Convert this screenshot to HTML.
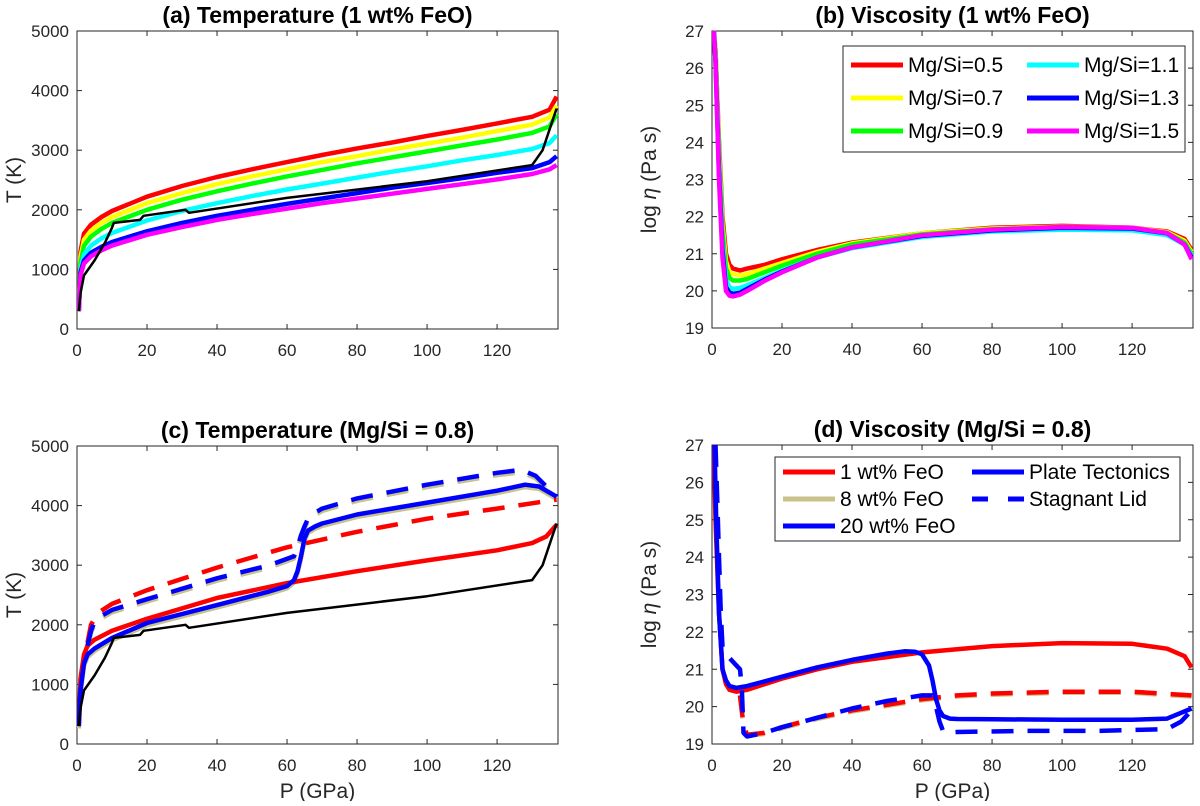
<!DOCTYPE html>
<html><head><meta charset="utf-8"><style>
body{margin:0;background:#fff}
svg text{font-family:"Liberation Sans",Arial,sans-serif}
</style></head><body>
<svg id="s" width="1200" height="801" viewBox="0 0 1200 801" xmlns="http://www.w3.org/2000/svg"></svg>
<script>
// ---- data ----
const xTicks=[0,20,40,60,80,100,120];
const tTicks=[0,1000,2000,3000,4000,5000];
const vTicks=[19,20,21,22,23,24,25,26,27];
const pA=[0.5,1,2,4,7,10,20,30,40,50,60,70,80,90,100,110,120,130,135,137];
const tRed=[300,1300,1600,1750,1880,1980,2220,2400,2550,2680,2800,2920,3030,3130,3240,3340,3450,3560,3680,3900];
const tYellow=[300,1200,1500,1650,1780,1880,2110,2280,2430,2560,2680,2800,2900,3010,3110,3210,3320,3430,3550,3750];
const tGreen=[300,1100,1400,1550,1680,1780,2000,2170,2310,2440,2560,2670,2780,2880,2980,3080,3180,3290,3400,3600];
const tCyan=[300,1000,1250,1400,1520,1610,1820,1980,2110,2230,2340,2440,2540,2640,2730,2830,2920,3020,3120,3250];
const tBlue=[300,950,1150,1280,1380,1460,1640,1780,1900,2000,2100,2190,2280,2370,2450,2530,2620,2700,2800,2900];
const tMag=[300,900,1100,1220,1320,1400,1580,1710,1830,1930,2020,2110,2190,2270,2350,2430,2510,2600,2680,2750];
const pBlack=[0.5,1,2,5,8,10,10.5,18,19,31,32,60,100,130,133,137];
const tBlack=[300,600,900,1150,1450,1700,1780,1830,1900,2000,1950,2200,2480,2750,3000,3700];
const pB=[0.5,1,2,3,4,5,6,8,10,15,20,30,40,60,80,100,120,130,135,137];
const vRed=[27,26.5,24,22,21,20.7,20.6,20.55,20.6,20.7,20.85,21.1,21.3,21.55,21.7,21.75,21.7,21.6,21.4,21.1];
const vYellow=[27,26.5,23.8,21.8,20.8,20.5,20.45,20.42,20.45,20.6,20.75,21.05,21.28,21.55,21.68,21.73,21.7,21.58,21.35,21.05];
const vGreen=[27,26.4,23.6,21.6,20.6,20.35,20.28,20.28,20.32,20.5,20.68,21.0,21.25,21.52,21.66,21.72,21.68,21.56,21.3,21.0];
const vCyan=[27,26.3,23.4,21.3,20.3,20.1,20.05,20.08,20.15,20.35,20.55,20.9,21.15,21.45,21.6,21.65,21.63,21.5,21.25,20.95];
const vBlue=[27,26.2,23.2,21.1,20.1,19.95,19.92,19.95,20.05,20.3,20.52,20.9,21.17,21.48,21.63,21.7,21.68,21.55,21.25,20.9];
const vMag=[27,26.2,23.0,20.9,20.0,19.87,19.85,19.9,20.0,20.27,20.5,20.9,21.17,21.5,21.65,21.72,21.7,21.56,21.25,20.85];
// panel c
const pC1=[0.5,1,2,3,5,10,20,40,60,80,100,120,130,134,137];
const tC1red=[300,1100,1500,1650,1750,1900,2100,2450,2700,2900,3080,3250,3370,3480,3680];
const pC2=[3,4,6,10,20,40,60,80,100,120,137];
const tC2red=[1700,2000,2200,2350,2580,2960,3300,3560,3780,3950,4100];
const pC3=[0.5,1,2,3,5,10,20,40,55,60,62,63,64,65,66,68,70,80,100,120,128,132,137];
const tC3blue=[300,900,1350,1500,1600,1780,2030,2330,2560,2650,2750,2900,3150,3450,3580,3650,3700,3850,4050,4250,4350,4320,4150];
const pC4=[3,4,5,7,10,20,40,55,62,63,64,65,66,68,70,80,100,120,127,131,137];
const tC4blue=[1650,1900,2050,2150,2250,2430,2780,3000,3150,3300,3500,3650,3780,3880,3950,4120,4350,4550,4600,4500,4150];
// panel d
const pD1=[0.5,1,2,3,4,5,7,10,20,30,40,60,80,100,120,130,135,137];
const vD1red=[27,25,22.5,21,20.6,20.45,20.4,20.45,20.75,21.0,21.2,21.45,21.62,21.7,21.68,21.55,21.35,21.05];
const pD2=[8,9,10,15,20,30,40,50,60,70,80,100,120,137];
const vD2red=[20.3,19.5,19.25,19.3,19.45,19.7,19.9,20.05,20.2,20.3,20.35,20.4,20.4,20.3];
const pD3=[0.7,1.2,2,3,4,5,7,10,20,30,40,50,55,58,60,62,63,64,65,66,68,70,80,100,120,130,137];
const vD3blue=[27,25,22.5,21,20.7,20.55,20.5,20.55,20.8,21.05,21.25,21.42,21.48,21.47,21.4,21.1,20.7,20.2,19.9,19.75,19.68,19.67,19.66,19.65,19.65,19.68,19.95];
const pD4=[1,1.5,2,2.5,3,4,6,8,8.5,9,10,15,20,30,40,50,60,63,64,65,66,67,70,90,110,130,134,137];
const vD4blue=[27,25.5,24,22.5,21.6,21.4,21.2,21.0,20.5,19.3,19.2,19.3,19.45,19.7,19.95,20.15,20.3,20.3,20.0,19.6,19.35,19.3,19.32,19.35,19.35,19.4,19.6,19.9];

const NS='http://www.w3.org/2000/svg';
const svg=document.getElementById('s');
function mk(tag,attrs,parent){const e=document.createElementNS(NS,tag);for(const k in attrs)e.setAttribute(k,attrs[k]);(parent||svg).appendChild(e);return e;}
function panel(id,L,T,R,B,ymin,ymax,yt,title,ylab,xlab){
  const g=mk('g',{});
  
  
  const xs=p=>L+(p/137.4)*(R-L);
  const ys=v=>B-(v-ymin)/(ymax-ymin)*(B-T);
  const ax=mk('rect',{x:L,y:T,width:R-L,height:B-T,fill:'#fff',stroke:'#262626','stroke-width':1},g);
  
  
  xTicks.forEach(t=>{const x=xs(t);
    mk('line',{x1:x,y1:B,x2:x,y2:B-5,stroke:'#262626'},g);mk('line',{x1:x,y1:T,x2:x,y2:T+5,stroke:'#262626'},g);
    const tx=mk('text',{x:x,y:B+27,'font-size':17,'text-anchor':'middle',fill:'#262626'},g);tx.textContent=t;
    
    });
  yt.forEach(t=>{const y=ys(t);
    mk('line',{x1:L,y1:y,x2:L+5,y2:y,stroke:'#262626'},g);mk('line',{x1:R,y1:y,x2:R-5,y2:y,stroke:'#262626'},g);
    const tx=mk('text',{x:L-8,y:y+6,'font-size':17,'text-anchor':'end',fill:'#262626'},g);tx.textContent=t;
    
    });
  const tt=mk('text',{x:(L+R)/2,y:T-8,'font-size':23,'font-weight':'bold','text-anchor':'middle'},g);tt.textContent=title;
  
  
  const yl=mk('text',{x:0,y:0,'font-size':21,'text-anchor':'middle',fill:'#262626',transform:`translate(${L-56},${(T+B)/2}) rotate(-90)`},g);
  yl.innerHTML=ylab;
  
  
  if(xlab){const xl=mk('text',{x:(L+R)/2,y:B+54,'font-size':21,'text-anchor':'middle',fill:'#262626'},g);xl.textContent=xlab;
    
    }
  const clip='c'+id;const cp=mk('clipPath',{id:clip},g);mk('rect',{x:L,y:T-3,width:R-L+3,height:B-T+3},cp);
  const lg=mk('g',{'clip-path':`url(#${clip})`},g);
  return {g,lg,xs,ys,line(P,V,col,w,dash,name){
    const d=P.map((p,i)=>(i?'L':'M')+xs(p).toFixed(1)+','+ys(V[i]).toFixed(1)).join('');
    const a={d:d,fill:'none',stroke:col,'stroke-width':w,'stroke-linejoin':'round'};if(dash)a['stroke-dasharray']=dash;
    const e=mk('path',a,lg);
    
    }};
}
function legend(g,x,y,w,h,items,rows,colW,rowH,fs,top){
  const lb=mk('g',{},g);
  
  
  mk('rect',{x,y,width:w,height:h,fill:'#fff',stroke:'#262626'},lb);
  items.forEach((it,i)=>{const c=Math.floor(i/rows),r=i%rows;
    const lx=x+8+c*colW,ly=y+top+r*rowH;
    const a={x1:lx,y1:ly,x2:lx+52,y2:ly,stroke:it[1],'stroke-width':5};if(it[2])a['stroke-dasharray']=it[2];
    mk('line',a,lb);
    const t=mk('text',{x:lx+57,y:ly+7,'font-size':fs,fill:'#000'},lb);t.textContent=it[0];
    
    });
}
const RED='#ff0000',YEL='#ffff00',GRN='#00ff00',CYA='#00ffff',BLU='#0000ff',MAG='#ff00ff',OLV='#c8c38a';
const W=4.5;
// (a)
let a=panel('panel-a',77,31,558,329,0,5000,tTicks,'(a) Temperature (1 wt% FeO)','T (K)');
a.line(pA,tRed,RED,W,null,'line-mgsi-0.5');a.line(pA,tYellow,YEL,W,null,'line-mgsi-0.7');a.line(pA,tGreen,GRN,W,null,'line-mgsi-0.9');
a.line(pA,tCyan,CYA,W,null,'line-mgsi-1.1');a.line(pA,tBlue,BLU,W,null,'line-mgsi-1.3');a.line(pA,tMag,MAG,W,null,'line-mgsi-1.5');
a.line(pBlack,tBlack,'#000',2.5,null,'line-solidus');
// (b)
let b=panel('panel-b',712,31,1193,328,19,27,vTicks,'(b) Viscosity (1 wt% FeO)','log <tspan font-style="italic">η</tspan> (Pa s)');
b.line(pB,vRed,RED,W,null,'line-mgsi-0.5');b.line(pB,vYellow,YEL,W,null,'line-mgsi-0.7');b.line(pB,vGreen,GRN,W,null,'line-mgsi-0.9');
b.line(pB,vCyan,CYA,W,null,'line-mgsi-1.1');b.line(pB,vBlue,BLU,W,null,'line-mgsi-1.3');b.line(pB,vMag,MAG,W,null,'line-mgsi-1.5');
legend(b.g,843,46,342,106,[['Mg/Si=0.5',RED],['Mg/Si=0.7',YEL],['Mg/Si=0.9',GRN],['Mg/Si=1.1',CYA],['Mg/Si=1.3',BLU],['Mg/Si=1.5',MAG]],3,176,33,21,19);
// (c)
let c=panel('panel-c',77,446,558,744,0,5000,tTicks,'(c) Temperature (Mg/Si = 0.8)','T (K)','P (GPa)');
c.line(pC3,tC3blue.map(v=>v-40),OLV,W,null,'line-8wt-pt');
c.line(pC4,tC4blue.map(v=>v-40),OLV,W,'22,14','line-8wt-sl');
c.line(pC1,tC1red,RED,W,null,'line-1wt-pt');
c.line(pC2,tC2red,RED,W,'22,14','line-1wt-sl');
c.line(pC3,tC3blue,BLU,W,null,'line-20wt-pt');
c.line(pC4,tC4blue,BLU,W,'22,14','line-20wt-sl');
c.line(pBlack,tBlack,'#000',2.5,null,'line-solidus');
// (d)
let d=panel('panel-d',712,445,1193,744,19,27,vTicks,'(d) Viscosity (Mg/Si = 0.8)','log <tspan font-style="italic">η</tspan> (Pa s)','P (GPa)');
d.line(pD2,vD2red.map(v=>v-0.03),OLV,W,'22,14','line-8wt-sl');
d.line(pD1,vD1red,RED,W,null,'line-1wt-pt');
d.line(pD2,vD2red,RED,W,'22,14','line-1wt-sl');
d.line(pD3,vD3blue,BLU,W,null,'line-20wt-pt');
d.line(pD4,vD4blue,BLU,W,'22,14','line-20wt-sl');
legend(d.g,775,457,405,84,[['1 wt% FeO',RED],['8 wt% FeO',OLV],['20 wt% FeO',BLU],['Plate Tectonics',BLU],['Stagnant Lid',BLU,'16,20']],3,189,27,21,15);
</script>
</body></html>
